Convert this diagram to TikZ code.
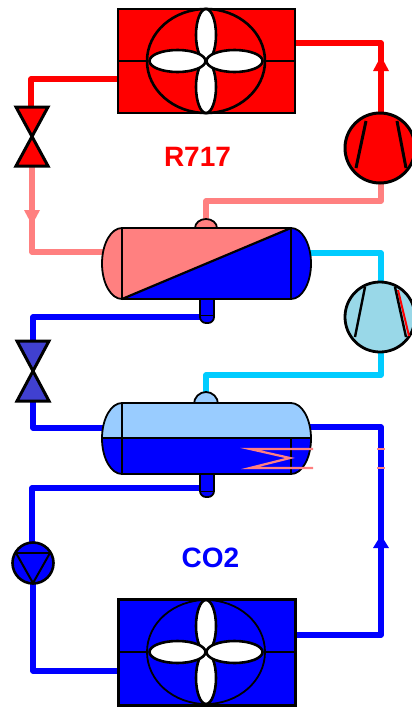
\documentclass[tikz,border=0pt]{standalone}
\usepackage{fontspec}
\setmainfont{Liberation Sans}
\definecolor{rcol}{HTML}{FF0000}
\definecolor{pinkc}{HTML}{FF8080}
\definecolor{bluec}{HTML}{0000FF}
\definecolor{cyanc}{HTML}{00CCFF}
\definecolor{icec}{HTML}{99CCFF}
\definecolor{compc}{HTML}{99D8E8}
\definecolor{valvec}{HTML}{4040D0}
\tikzset{
  pipe/.style={line width=5.6pt,line join=round,line cap=butt},
  outl/.style={draw=black,line width=1.8pt},
  inner/.style={draw=black,line width=2.8pt},
  thick outl/.style={draw=black,line width=3pt},
  lbl/.style={font=\fontsize{28}{30}\selectfont\bfseries},
  petal/.style={fill=white,draw=black,line width=2.6pt},
  coil/.style={draw=pinkc,line width=2.2pt},
}
\newcommand{\fanunit}[6]{% top, bottom, mid, colour, frame width, ellipse width
  \path[fill=#4] (118,#1) rectangle (295,#2);
  \draw[black,line width=#5] (118,#1) rectangle (295,#2);
  \draw[black,line width=#6] (118,#3) -- (295,#3);
  \draw[black,line width=#6,fill=#4] (206,#3) ellipse [x radius=59,y radius=52];
  \draw[petal] (206,#3-26) ellipse [x radius=10,y radius=26];
  \draw[petal] (206,#3+26) ellipse [x radius=10,y radius=26];
  \draw[petal] (177.5,#3) ellipse [x radius=28,y radius=11];
  \draw[petal] (234.5,#3) ellipse [x radius=28,y radius=11];
}
\newcommand{\valvesym}[4]{% x, top y, bottom y, fill
  \draw[thick outl,fill=#4,line join=miter] (#1-16,#2) -- (#1+16,#2) -- (#1,{(#2+#3)/2}) -- cycle;
  \draw[thick outl,fill=#4,line join=miter] (#1-16,#3) -- (#1+16,#3) -- (#1,{(#2+#3)/2}) -- cycle;
}
\begin{document}
\begin{tikzpicture}[x=1pt,y=-1pt]
\clip (0,0) rectangle (412,707);
\fill[white] (0,0) rectangle (412,707);
% ports
\coordinate (condR) at (295,43);
\coordinate (condRc) at (381,43);
\coordinate (compTop) at (381,115);
\coordinate (condL) at (118,79);
\coordinate (condLc) at (31,79);
\coordinate (v1Top) at (31,107);
\coordinate (v1Bot) at (32,166);
\coordinate (pinkc1) at (32,252);
\coordinate (ves1L) at (104,252);
\coordinate (compBot) at (381,183);
\coordinate (pinkc2) at (381,201);
\coordinate (pinkc3) at (206,201);
\coordinate (ves1Dome) at (206,222);
\coordinate (ves1R) at (309,253);
\coordinate (cyc1) at (381,253);
\coordinate (comp2Top) at (381,282);
\coordinate (comp2Bot) at (381,351);
\coordinate (cyc2) at (381,375);
\coordinate (cyc3) at (206,375);
\coordinate (ves2Dome) at (206,396);
\coordinate (sump1) at (202,317);
\coordinate (blc1) at (33,317);
\coordinate (v2Top) at (33,341);
\coordinate (v2Bot) at (33,401);
\coordinate (blc2) at (33,428);
\coordinate (ves2L) at (104,428);
\coordinate (ves2R) at (309,427);
\coordinate (blc3) at (381,427);
\coordinate (blc4) at (381,635);
\coordinate (cond2R) at (295,635);
\coordinate (sump2) at (202,488);
\coordinate (blc5) at (32,488);
\coordinate (pumpTop) at (32,542);
\coordinate (pumpBot) at (33,583);
\coordinate (blc6) at (33,671);
\coordinate (cond2L) at (118,671);
% pipes
\draw[pipe,rcol] (condR) -- (condRc) -- (compTop);
\draw[pipe,rcol] (condL) -- (condLc) -- (v1Top);
\draw[pipe,pinkc] (v1Bot) -- (pinkc1) -- (ves1L);
\draw[pipe,pinkc] (compBot) -- (pinkc2) -- (pinkc3) -- (ves1Dome);
\draw[pipe,cyanc] (ves1R) -- (cyc1) -- (comp2Top);
\draw[pipe,cyanc] (comp2Bot) -- (cyc2) -- (cyc3) -- (ves2Dome);
\draw[pipe,bluec] (sump1) -- (blc1) -- (v2Top);
\draw[pipe,bluec] (v2Bot) -- (blc2) -- (ves2L);
\draw[pipe,bluec] (ves2R) -- (blc3) -- (blc4) -- (cond2R);
\draw[pipe,bluec] (sump2) -- (blc5) -- (pumpTop);
\draw[pipe,bluec] (pumpBot) -- (blc6) -- (cond2L);
% arrowheads
\fill[rcol] (381,56) -- (389,71) -- (373,71) -- cycle;
\fill[pinkc] (32,225) -- (24,210) -- (40,210) -- cycle;
\fill[bluec] (381,535) -- (389,548) -- (373,548) -- cycle;
% condensers
\fanunit{9}{113}{61}{rcol}{1.4pt}{2.6pt}
\fanunit{599}{705}{652}{bluec}{3pt}{1.8pt}
% valves
\valvesym{32}{107}{166}{rcol}
\valvesym{33}{341}{401}{valvec}
% compressor 1
\draw[black,line width=3pt,fill=rcol] (380,148) circle [radius=35];
\draw[black,line width=3pt] (366,121) -- (356,168);
\draw[black,line width=3pt] (397,121) -- (406,168);
% compressor 2
\draw[black,line width=2.8pt,fill=compc] (380,317) circle [radius=35];
\draw[rcol,line width=2pt] (398,290) -- (409,336);
\draw[black,line width=2.4pt] (365,287) -- (355,337);
\draw[black,line width=2.4pt] (395,287) -- (406,337);
% vessel 1
\draw[outl,fill=bluec,rounded corners=6pt] (200,298) -- (200,323) -- (214,323) -- (214,298);
\draw[black,line width=1pt] (200.5,315) -- (213.5,315);
\draw[outl,fill=pinkc] (195,228) arc [start angle=180,end angle=360,x radius=11,y radius=9];
\path[fill=pinkc] (122,228) arc [start angle=-90,end angle=-270,x radius=20,y radius=35.5] -- cycle;
\path[fill=pinkc] (122,228) rectangle (291,299);
\path[fill=bluec] (122,299) -- (291,228) arc [start angle=-90,end angle=90,x radius=20,y radius=35.5] -- cycle;
\draw[outl,line join=round] (122,228) arc [start angle=-90,end angle=-270,x radius=20,y radius=35.5] -- (291,299) arc [start angle=90,end angle=-90,x radius=20,y radius=35.5] -- cycle;
\draw[black,line width=2.8pt] (102,228) (122,228) -- (291,228);
\draw[black,line width=2.6pt] (122,299) -- (291,299);
\draw[inner] (122,228) -- (122,299);
\draw[inner] (291,228) -- (291,299);
\draw[black,line width=2.2pt] (122,299) -- (291,228);
% vessel 2
\draw[outl,fill=bluec,rounded corners=6pt] (200,473) -- (200,497) -- (214,497) -- (214,473);
\draw[black,line width=1pt] (200.5,491) -- (213.5,491);
\draw[outl,fill=icec] (194,404) arc [start angle=180,end angle=360,x radius=12,y radius=12];
\begin{scope}
  \path[clip] (122,403) arc [start angle=-90,end angle=-270,x radius=20,y radius=35.5] -- (291,474) arc [start angle=90,end angle=-90,x radius=20,y radius=35.5] -- cycle;
  \fill[icec] (100,400) rectangle (315,438);
  \fill[bluec] (100,438) rectangle (315,476);
\end{scope}
\draw[outl,line join=round] (122,403) arc [start angle=-90,end angle=-270,x radius=20,y radius=35.5] -- (291,474) arc [start angle=90,end angle=-90,x radius=20,y radius=35.5] -- cycle;
\draw[inner] (122,403) -- (122,474);
\draw[inner] (291,438) -- (291,474);
\draw[black,line width=2pt] (102,438) -- (311,438);
% coil
\draw[coil,line join=miter] (313,449) -- (250,449) -- (290,458) -- (250,468) -- (313,468);
\draw[coil] (377,449) -- (385,449);
\draw[coil] (377,468) -- (385,468);
% pump
\draw[black,line width=2.6pt,fill=bluec] (33,563) circle [radius=20.5];
\draw[black,line width=2pt] (14,553) -- (52,553);
\draw[black,line width=2pt,line join=round] (16,553) -- (33,583) -- (50,553);
% labels
\node[lbl,text=rcol] (r717) at (197.5,157) {R717};
\node[lbl,text=bluec] (co2) at (210.5,558) {CO2};
\end{tikzpicture}
\end{document}
